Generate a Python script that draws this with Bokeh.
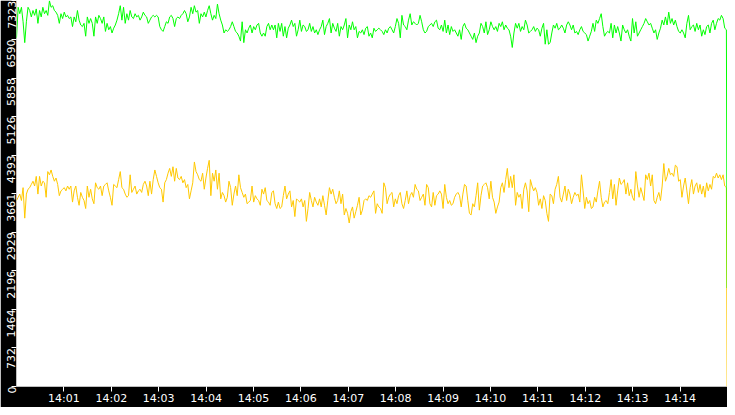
import math
import pandas as pd
from bokeh.plotting import figure
from bokeh.models import Range1d, FixedTicker, DatetimeTickFormatter
from bokeh.embed import file_html
from bokeh.resources import INLINE

day = "2024-01-01"
minute_labels = ["14:01", "14:02", "14:03", "14:04", "14:05", "14:06", "14:07",
                 "14:08", "14:09", "14:10", "14:11", "14:12", "14:13", "14:14"]
y_ticks = [0, 732, 1464, 2196, 2929, 3661, 4393, 5126, 5858, 6590, 7323]

# upper series (green), ~2 s per sample
green = [
    6621, 7201, 7079, 7201, 6926, 6530, 6926, 7201, 7140, 7018,
    7140, 7048, 7170, 6896, 7140, 7018, 7201, 7079, 7140, 7048,
    7323, 7201, 7231, 7140, 7109, 7048, 6896, 7079, 6987, 7109,
    7018, 7048, 6987, 7018, 6835, 7018, 6926, 7140, 6957, 6865,
    6835, 6896, 6652, 7018, 6896, 6987, 6896, 6652, 7018, 6896,
    7048, 6987, 6896, 7018, 6743, 6896, 6774, 6835, 6713, 6804,
    6865, 6957, 7079, 7231, 6957, 7201, 6896, 7079, 6957, 7140,
    7018, 6987, 7079, 7018, 7048, 6957, 7018, 7109, 7048, 7018,
    6896, 6957, 7018, 7048, 7018, 7048, 7018, 6835, 6774, 6743,
    6835, 6926, 6896, 7018, 7048, 6987, 6835, 6987, 7018, 6987,
    7048, 7079, 7140, 7079, 6926, 7018, 7201, 7079,
    7231, 7109, 7140, 6896, 7079, 7018, 7109, 7018, 7140, 7231,
    7079, 6957, 7048, 6987, 7262, 7079, 6957, 6865, 6713, 6774,
    6743, 6774, 6835, 6926, 6835, 6743, 6713, 6652, 6560, 6926,
    6530, 6774, 6713, 6804, 6865, 6713, 6835, 6774, 6865, 6896,
    6713, 6652, 6713, 6652, 6835, 6896, 6774, 6865, 6774, 6865,
    6621, 6896, 6743, 6896, 6652, 6835, 6621, 6804, 6865, 6957,
    6835, 6896, 6652, 6774, 6957, 6743, 6865, 6835, 6743, 6774,
    6896, 6743, 6835, 6713, 6774, 6682, 6774, 6835, 6957, 6682,
    6835, 6896, 6987, 6713, 6896, 6804, 6743, 6896, 6652, 6835,
    6774, 6865, 6987, 6621, 6865, 6774, 6926, 6774, 6835, 6621,
    6743, 6713, 6774, 6682, 6804, 6835, 6652, 6713,
    6621, 6804, 6743, 6774, 6804, 6774, 6743, 6682, 6774, 6713,
    6804, 6835, 6774, 6713, 6835, 6987, 6896, 6621, 7048, 6865,
    6835, 6774, 6957, 7079, 6865, 6926, 6896, 6865, 6896, 7048,
    6926, 6774, 6713, 6743, 6835, 6865, 6896, 6835, 6926, 6957,
    6804, 6774, 6865, 6743, 6957, 6713, 6865, 6682, 6835, 6743,
    6774, 6713, 6652, 6774, 6591, 6835, 6896, 6804, 6774, 6713,
    6652, 6591, 6713, 6530, 6652, 6713, 6896, 6835, 6713, 6926,
    6682, 6774, 6926, 6835, 6774, 6835, 6743, 6896, 6835, 6926,
    6774, 6865, 6804, 6774, 6652, 6438, 6713, 6896, 6804, 6896,
    6743, 6835, 6774, 6957, 6865, 6713, 6743, 6774, 6835, 6743,
    6804, 6774, 6652, 6804, 6896, 6500, 6774, 6500,
    6530, 6713, 6865, 6804, 6896, 6774, 6804, 6865, 6804, 6713,
    6865, 6926, 6865, 6774, 6865, 6713, 6743, 6682, 6774, 6835,
    6743, 6713, 6682, 6560, 6652, 6743, 6896, 6743, 6957, 6896,
    6987, 7079, 6835, 6652, 6713, 6743, 6713, 6896, 6621, 6865,
    6713, 6835, 6713, 6560, 6865, 6774, 6713, 6774, 6652, 6560,
    6987, 6713, 6926, 6652, 6713, 6774, 6835, 6896, 6987, 6926,
    6865, 6896, 6804, 6713, 6774, 6591, 6713, 6804, 6957, 6865,
    7018, 6865, 7109, 6896, 6987, 6865, 6957, 6835, 6743, 6713,
    6774, 6713, 6621, 6896, 7048, 6774, 6835, 6865, 6743, 6896,
    6774, 6865, 6652, 6774, 6682, 6835, 6865, 6713, 6896, 6957,
    6774, 6896, 6987, 6957, 7048, 6987, 6804, 6774,
    1870,
]

# lower series (yellow)
yellow = [
    3532, 3593, 3654, 3532, 3776, 3197, 3654, 3746, 3776, 3837,
    3898, 3807, 3990, 3654, 3990, 3807, 3898, 3868, 3593, 4081,
    4020, 4112, 3990, 3898, 3959, 3837, 3624, 3715, 3746, 3776,
    3715, 3807, 3746, 3807, 3502, 3715, 3807, 3593, 3441, 3685,
    3593, 3532, 3380, 3807, 3593, 3746, 3563, 3471, 3868, 3776,
    3746, 3807, 3624, 3807, 3837, 3868, 3715, 3593, 3441, 3837,
    3807, 3776, 3929, 4081, 3776, 3746, 3654, 3593, 3624, 4020,
    3685, 3746, 3807, 3654, 3715, 3746, 3685, 3837, 3898, 3807,
    3624, 3898, 3654, 3929, 4112, 3990, 3868, 3776, 3746, 3502,
    3868, 3929, 4051, 4142, 3990, 4173, 3898, 4142, 3959, 3929,
    3990, 3868, 3929, 3776, 3837, 3563, 3715, 3868,
    4264, 4081, 4020, 3929, 3898, 4051, 3746, 3959, 4142, 4295,
    3624, 4051, 3898, 4112, 3746, 4051, 3563, 3685, 3624, 3502,
    3593, 3898, 3776, 3441, 3654, 3807, 3624, 4020, 3776, 3685,
    3593, 3654, 3471, 3502, 3532, 3807, 3502, 3624, 3563, 3532,
    3441, 3746, 3654, 3776, 3532, 3502, 3441, 3685, 3715, 3471,
    3380, 3502, 3380, 3410, 3624, 3807, 3563, 3654, 3715, 3410,
    3532, 3227, 3563, 3532, 3502, 3563, 3410, 3532, 3136, 3380,
    3685, 3532, 3410, 3593, 3502, 3441, 3563, 3410, 3624, 3441,
    3258, 3532, 3776, 3654, 3746, 3593, 3471, 3532, 3715, 3471,
    3654, 3258, 3380, 3288, 3105, 3319, 3410, 3197, 3319, 3441,
    3593, 3258, 3349, 3532, 3563, 3532, 3624, 3593,
    3654, 3715, 3288, 3471, 3410, 3380, 3288, 3868, 3776, 3471,
    3593, 3654, 3685, 3410, 3563, 3471, 3624, 3685, 3471, 3380,
    3532, 3715, 3471, 3624, 3685, 3593, 3837, 3746, 3715, 3532,
    3593, 3654, 3441, 3837, 3776, 3471, 3410, 3685, 3441, 3624,
    3654, 3715, 3654, 3380, 3837, 3593, 3471, 3532, 3441, 3471,
    3593, 3654, 3685, 3624, 3410, 3654, 3837, 3807, 3532, 3288,
    3258, 3471, 3410, 3624, 3868, 3349, 3624, 3807, 3837, 3868,
    3776, 3563, 3898, 3593, 3502, 3288, 3410, 3502, 3776, 3868,
    3685, 3929, 4142, 3776, 3990, 3776, 4020, 3441, 3685, 3593,
    3654, 3380, 3746, 3868, 3715, 3319, 3929, 3807, 3715, 3776,
    3685, 3441, 3563, 3380, 3624, 3532, 3288, 3136,
    3654, 3624, 3471, 3746, 3837, 3990, 3593, 3502, 3654, 3807,
    3532, 3746, 3654, 3471, 3593, 3685, 3624, 3654, 3502, 4020,
    3715, 3380, 3593, 3471, 3532, 3380, 3410, 3593, 3502, 3715,
    3898, 3593, 3410, 3502, 3532, 3471, 3685, 3929, 3563, 3837,
    3441, 3715, 3959, 3837, 3868, 3929, 3654, 3868, 3624, 3746,
    3593, 3532, 4081, 3807, 3593, 3776, 3654, 3532, 4020, 3929,
    4051, 3807, 4020, 3532, 3471, 3593, 3685, 3532, 3807, 4234,
    3898, 3990, 4142, 4020, 4051, 3990, 4203, 4173, 3898, 3929,
    3593, 3807, 3959, 3715, 3471, 3776, 3929, 3654, 3807, 3868,
    3685, 3837, 3654, 3807, 3593, 3868, 3715, 3837, 3746, 3990,
    3959, 4051, 3959, 4020, 3929, 4020, 3807, 3776,
    0,
]

# samples are evenly spaced, the last one is the partial bucket at the end
times = list(pd.date_range(day + " 14:00:00", day + " 14:14:58.6", periods=len(green) - 1))
times.append(pd.Timestamp(day + " 14:14:59.5"))

x_start = pd.Timestamp(day + " 14:00:00")
x_end = pd.Timestamp(day + " 14:15:00")
x_ticks = [pd.Timestamp(day + " " + m).value // 10**6 for m in minute_labels]

p = figure(width=727, height=407, x_axis_type="datetime",
           x_range=Range1d(x_start, x_end), y_range=Range1d(0, 7330),
           output_backend="svg", toolbar_location=None, min_border=0)
p.border_fill_color = "black"
p.background_fill_color = "white"
p.outline_line_color = None
p.grid.visible = False

p.line(times, yellow, color="#ffc800", line_width=1)
p.line(times, green, color="#00ff00", line_width=1)

p.xaxis.ticker = FixedTicker(ticks=x_ticks)
hm = "%H:%M"
p.xaxis.formatter = DatetimeTickFormatter(seconds=hm, minsec=hm, minutes=hm,
                                          hourmin=hm, hours=hm)
p.yaxis.ticker = FixedTicker(ticks=y_ticks)
p.yaxis.major_label_orientation = math.pi / 2

for ax in (p.xaxis[0], p.yaxis[0]):
    ax.axis_line_color = None
    ax.major_tick_line_color = "white"
    ax.major_tick_out = 5
    ax.major_tick_in = 0
    ax.minor_tick_line_color = None
    ax.major_label_text_color = "white"
    ax.major_label_text_font = "DejaVu Sans"
    ax.major_label_text_font_size = "11px"
    ax.major_label_standoff = 0

open("out.html", "w").write(file_html(p, INLINE))
